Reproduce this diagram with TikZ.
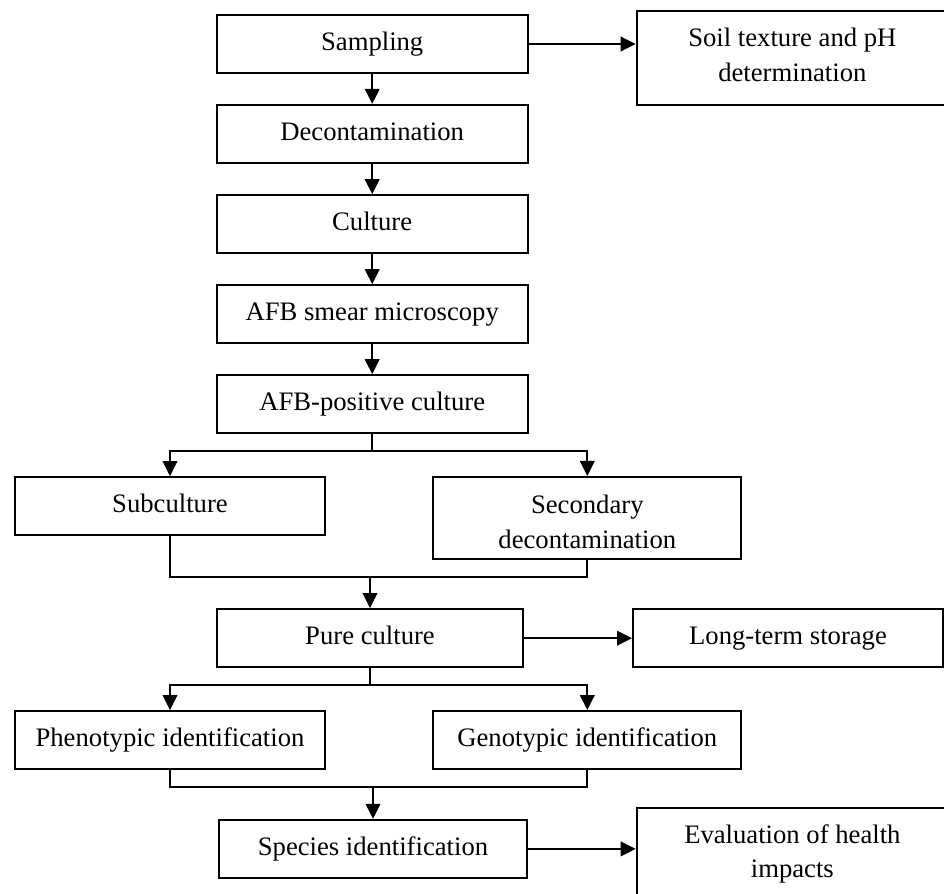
\documentclass[tikz,border=0pt]{standalone}
\usepackage{fontspec}
\setmainfont{Liberation Serif}
\usetikzlibrary{arrows.meta}
\begin{document}
\begin{tikzpicture}[x=0.75pt,y=-0.75pt,
  box/.style={draw, line width=1.5pt, rectangle, inner sep=0pt, align=center,
    font=\fontsize{20}{26}\selectfont, text height=15pt, text depth=5pt,
    minimum height=43.7pt},
  conn/.style={line width=1.5pt},
  arr/.style={conn, -{Triangle[length=11.25pt,width=10.9pt]}}]
\useasboundingbox (0,0) rectangle (944,893);
% centre column
\node[box, minimum width=233.25pt] (samp) at (372.2,44) {Sampling};
\node[box, minimum width=233.25pt] (dec) at (372.2,134) {Decontamination};
\node[box, minimum width=233.25pt] (cult) at (372.2,224.3) {Culture};
\node[box, minimum width=233.25pt] (afbs) at (372.2,314.3) {AFB smear microscopy};
\node[box, minimum width=233.25pt] (afbp) at (372.2,404.3) {AFB-positive culture};
\node[box, minimum width=233pt] (sub) at (170,506.2) {Subculture};
\node[box, minimum width=231pt, minimum height=61.9pt, text height=50pt, text depth=5.3pt] (sec) at (587.3,518.2) {Secondary\\decontamination};
\node[box, minimum width=230pt] (pure) at (370,638.2) {Pure culture};
\node[box, minimum width=232.5pt] (store) at (788,638.2) {Long-term storage};
\node[box, minimum width=233pt] (phen) at (170,740.2) {Phenotypic identification};
\node[box, minimum width=231pt] (gen) at (587.3,740.2) {Genotypic identification};
\node[box, minimum width=231.5pt] (spec) at (373,848.9) {Species identification};
\node[box, minimum width=233.5pt, minimum height=71pt, text height=40pt, text depth=5.5pt] (soil) at (792.35,58) {Soil texture and pH\\determination};
\node[box, minimum width=233.5pt, minimum height=71pt, text height=39.5pt, text depth=5.5pt] (eval) at (792.35,855.3) {Evaluation of health\\impacts};
% junction levels
\coordinate (b1) at (0,451.3);
\coordinate (j1) at (0,577.2);
\coordinate (b2) at (0,685.3);
\coordinate (j2) at (0,787);
% connectors
\draw[arr] (samp.east) -- (samp.east -| soil.west);
\draw[arr] (samp.south) -- (dec.north);
\draw[arr] (dec.south) -- (cult.north);
\draw[arr] (cult.south) -- (afbs.north);
\draw[arr] (afbs.south) -- (afbp.north);
\draw[arr] (afbp.south) -- (afbp.south |- b1) -| (sub.north);
\draw[arr] (afbp.south |- b1) -| (sec.north);
\draw[conn] (sub.south) |- (sec.south |- j1) -- (sec.south);
\draw[arr] (pure.north |- j1) -- (pure.north);
\draw[arr] (pure.east) -- (store.west);
\draw[arr] (pure.south) -- (pure.south |- b2) -| (phen.north);
\draw[arr] (pure.south |- b2) -| (gen.north);
\draw[conn] (phen.south) |- (gen.south |- j2) -- (gen.south);
\draw[arr] (spec.north |- j2) -- (spec.north);
\draw[arr] (spec.east) -- (spec.east -| eval.west);
\end{tikzpicture}
\end{document}
